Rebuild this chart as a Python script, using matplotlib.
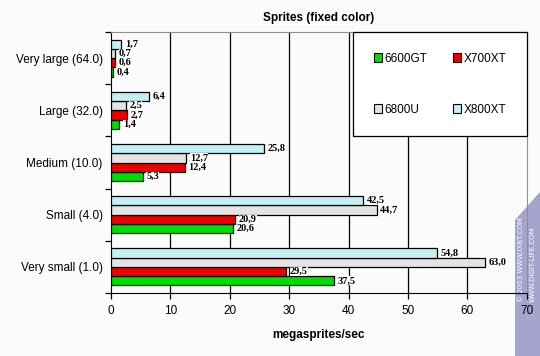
import numpy as np
import matplotlib
matplotlib.use('Agg')
import matplotlib.pyplot as plt
from matplotlib.patches import Patch, Polygon

categories = ['Very small (1.0)', 'Small (4.0)', 'Medium (10.0)', 'Large (32.0)', 'Very large (64.0)']
series = ['6600GT', 'X700XT', '6800U', 'X800XT']
v6600gt = [37.5, 20.6, 5.3, 1.4, 0.4]
vx700xt = [29.5, 20.9, 12.4, 2.7, 0.6]
v6800u = [63.0, 44.7, 12.7, 2.5, 0.7]
vx800xt = [54.8, 42.5, 25.8, 6.4, 1.7]
colors = ['#00dd00', '#ee0000', '#e4e4e4', '#c4f0f4']

values = [v6600gt, vx700xt, v6800u, vx800xt]

bg = '#fbfbfb'
fig = plt.figure(figsize=(5.4, 3.56), dpi=100, facecolor=bg)

# watermark strip (behind everything)
strip = Polygon([[515 / 540, 0], [540 / 540, 0], [540 / 540, 1 - 192 / 356], [515 / 540, 1 - 220 / 356]],
                closed=True, transform=fig.transFigure, facecolor='#a4a4cc', edgecolor='none', zorder=-5)
fig.patches.append(strip)
fig.text(521 / 540, 1 - 302 / 356, '© 2003 WWW.IXBT.COM', rotation=90, color='white', fontsize=5,
         family='DejaVu Sans', ha='center', va='bottom', zorder=-4)
fig.text(533 / 540, 1 - 302 / 356, 'WWW.DIGIT-LIFE.COM', rotation=90, color='white', fontsize=5,
         family='DejaVu Sans', ha='center', va='bottom', zorder=-4)

ax = fig.add_axes([0.2056, 0.177, 0.770, 0.733])
ax.set_facecolor('none')

y = np.arange(len(categories))
h = 0.178
for i, (vals, col) in enumerate(zip(values, colors)):
    pos = y + (i - 1.5) * h
    ax.barh(pos, vals, height=h, color=col, edgecolor='black', linewidth=0.9, zorder=3)
    for p, v in zip(pos, vals):
        ax.text(v + 0.6, p, ('%.1f' % v).replace('.', ','), va='center', ha='left',
                fontsize=7.5, fontweight='bold', family='Liberation Serif', zorder=4,
                bbox=dict(facecolor='white', edgecolor='none', pad=0.0))

ax.set_xlim(0, 70)
ax.set_ylim(-0.5, 4.5)
ax.set_xticks(np.arange(0, 71, 10))
ax.set_yticks(y)
ax.set_yticklabels(categories, family='Liberation Sans', fontsize=8.5)
ax.set_yticks(np.arange(-0.5, 4.6, 1), minor=True)
ax.tick_params(axis='y', which='major', length=0, pad=6)
ax.tick_params(axis='y', which='minor', length=4, direction='out', width=0.9)
ax.tick_params(axis='x', length=4, direction='out', width=0.9, pad=5, labelsize=8.5)
for lbl in ax.get_xticklabels():
    lbl.set_family('Liberation Sans')

for xv in range(10, 70, 10):
    ax.axvline(xv, color='black', linewidth=0.9, zorder=1)

ax.spines['left'].set_color('black')
ax.spines['bottom'].set_color('black')
ax.spines['top'].set_color('#909090')
ax.spines['right'].set_color('#909090')

ax.set_title('Sprites (fixed color)', fontsize=8.5, fontweight='bold', family='Liberation Sans', pad=8)
ax.set_xlabel('megasprites/sec', fontsize=8.5, fontweight='bold', family='Liberation Sans', labelpad=8)

# legend filled column by column: row 1 = 6600GT, X700XT ; row 2 = 6800U, X800XT
order = [0, 2, 1, 3]
handles = [Patch(facecolor=colors[k], edgecolor='black', linewidth=0.8) for k in order]
labels = [series[k] for k in order]
leg = ax.legend(handles, labels, ncol=2, loc='upper left', mode='expand',
                bbox_to_anchor=(0.582, 0.0, 0.418, 1.0), frameon=True, fancybox=False,
                prop={'family': 'Liberation Sans', 'size': 8.5},
                handlelength=0.7, handleheight=0.7, handletextpad=0.2,
                borderpad=1.75, labelspacing=3.3, borderaxespad=0.0)
leg.get_frame().set_edgecolor('black')
leg.get_frame().set_facecolor('white')
leg.get_frame().set_linewidth(0.9)
leg.get_frame().set_alpha(1)
leg.set_zorder(5)

plt.savefig('out.png', dpi=100, facecolor=bg)
